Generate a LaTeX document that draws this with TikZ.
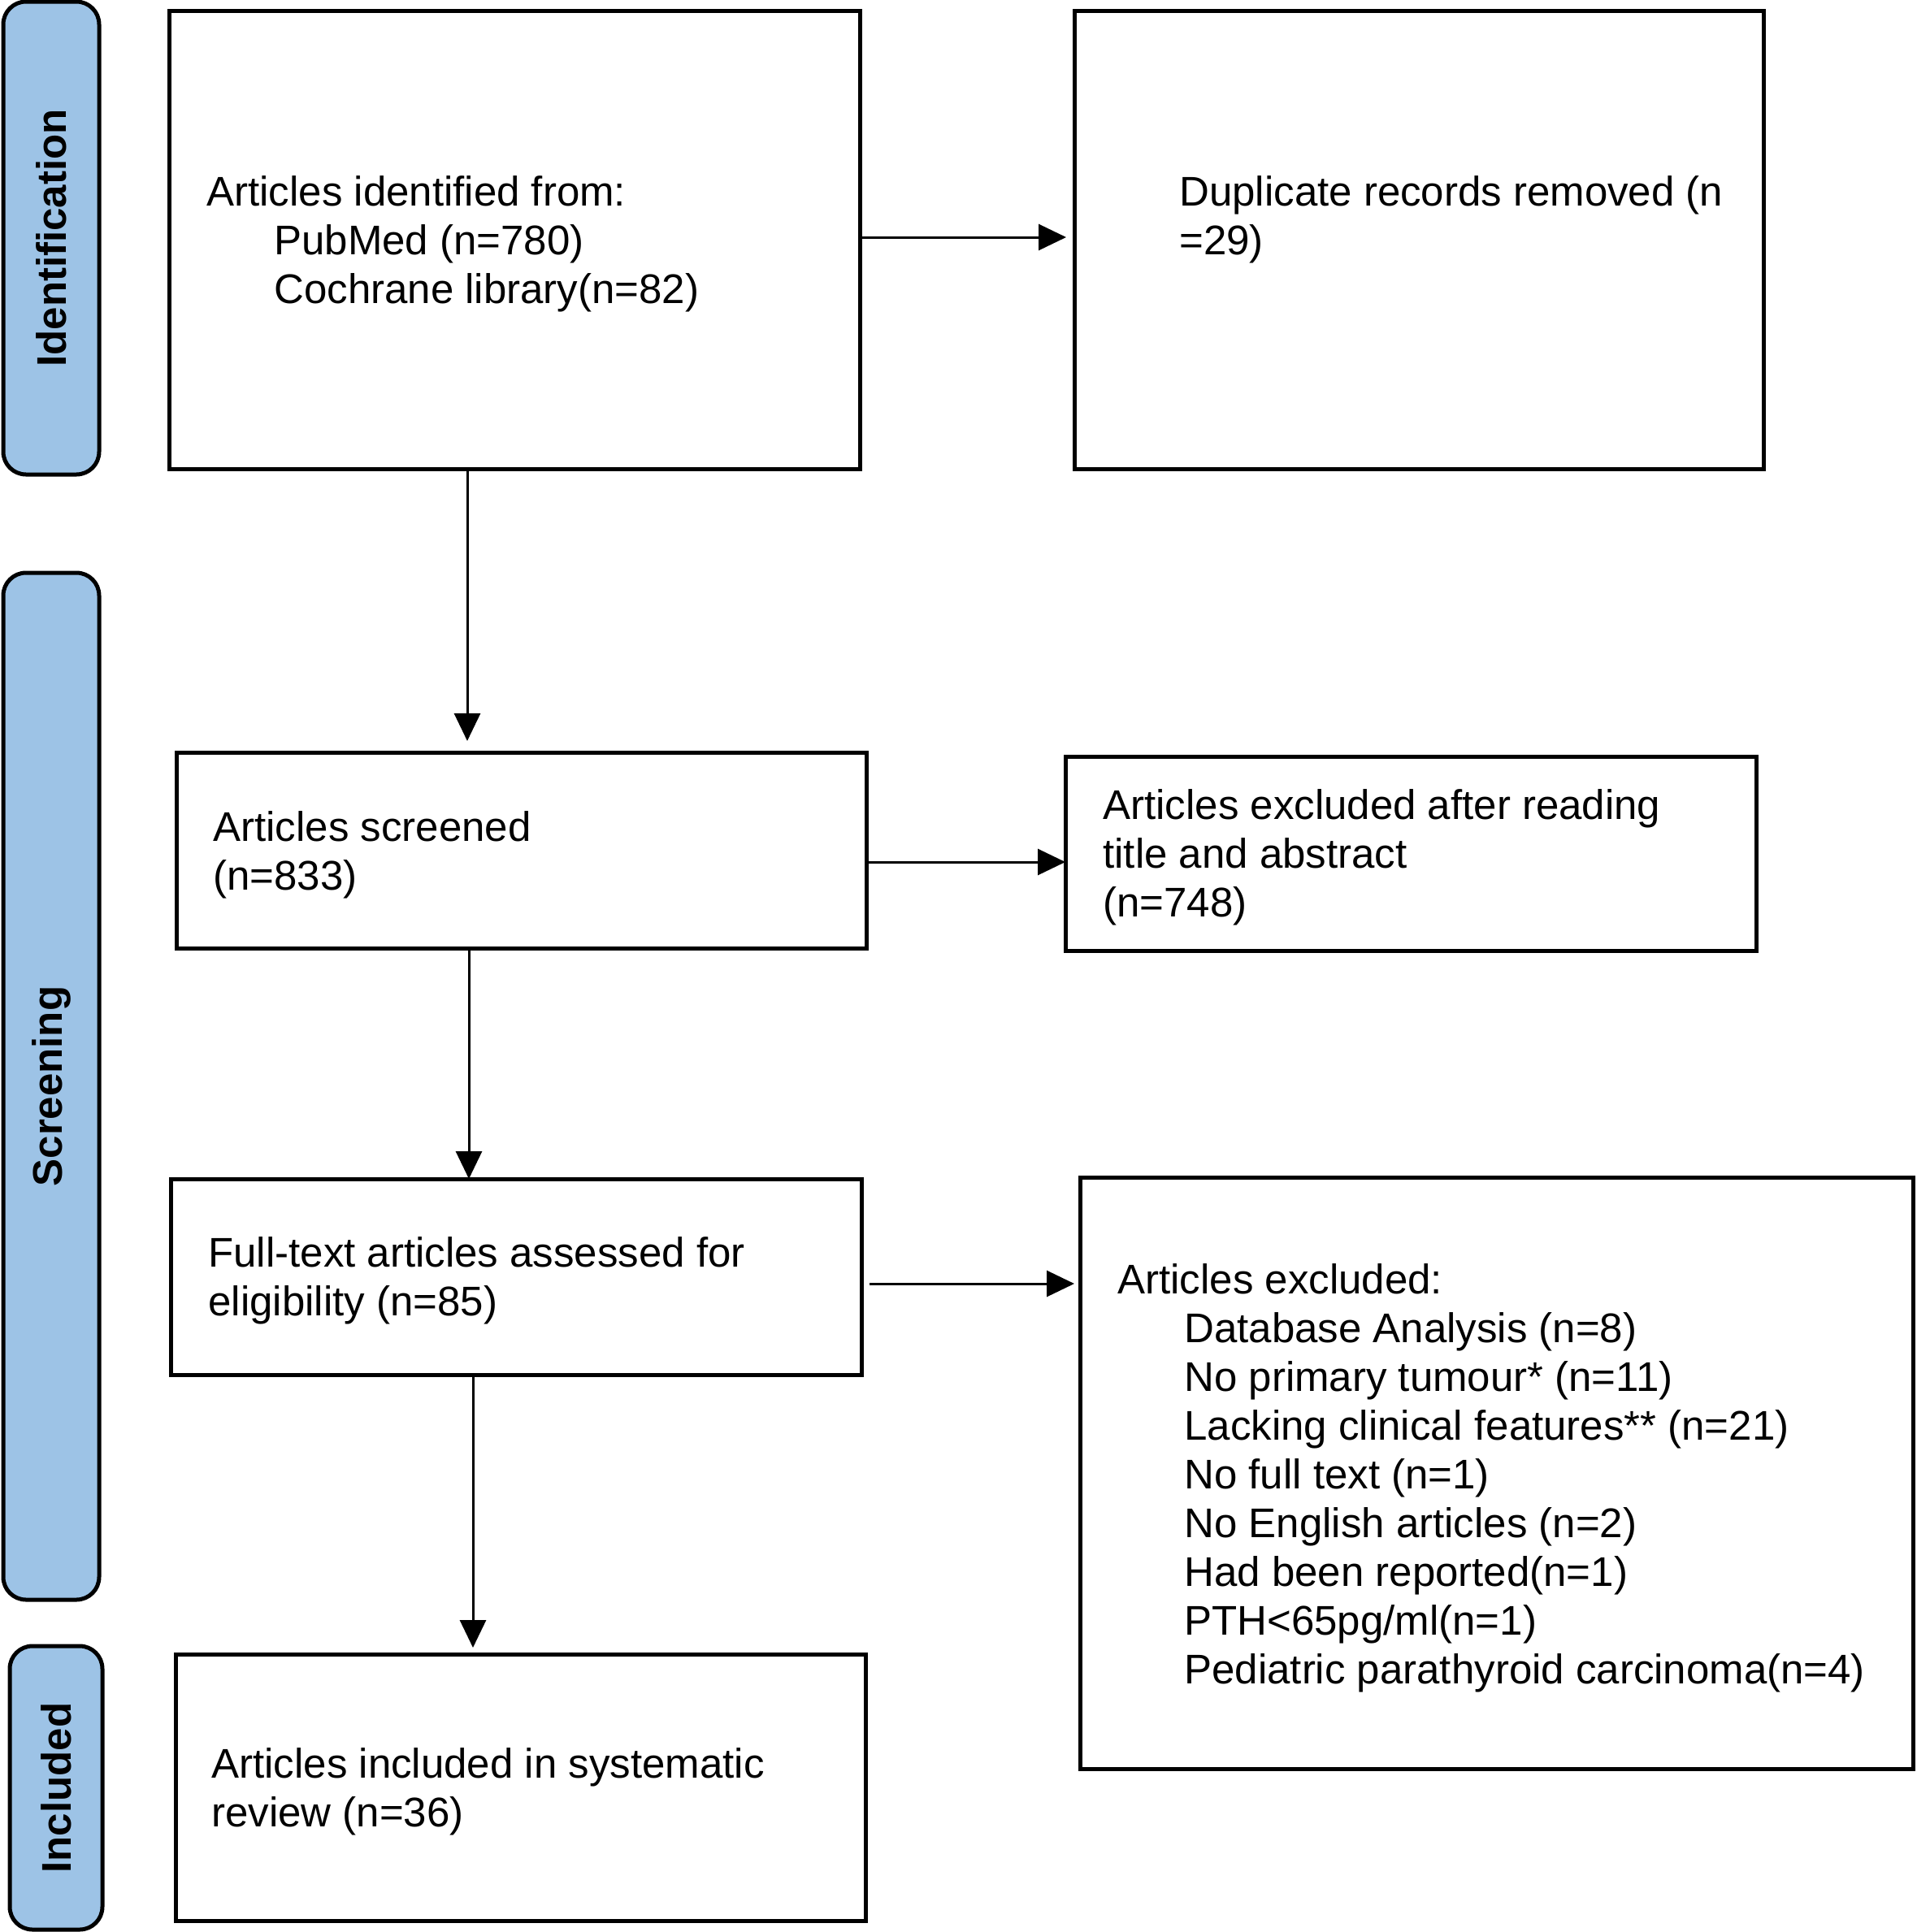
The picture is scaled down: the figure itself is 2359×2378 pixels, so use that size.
\documentclass[tikz,border=0pt]{standalone}
\usepackage{fontspec}
\setmainfont{Liberation Sans}
\usetikzlibrary{arrows.meta}
\definecolor{barblue}{RGB}{157,195,230}
\newcommand\txtlines[1]{\begin{tabular}[t]{@{}l@{}}#1\end{tabular}}
\begin{document}
\begin{tikzpicture}[x=0.5pt,y=-0.5pt,
  boxnode/.style={draw=black, line width=2.5pt, inner sep=0pt, outer sep=0pt},
  barnode/.style={draw=black, fill=barblue, line width=2.5pt, rounded corners=14pt, inner sep=0pt, outer sep=0pt},
  txt/.style={anchor=base west, inner sep=0pt, font=\fontsize{25.5pt}{30pt}\selectfont},
  bartxt/.style={rotate=90, inner sep=0pt, font=\fontsize{25.5pt}{30pt}\selectfont\bfseries},
  arr/.style={line width=1.5pt, -{Triangle[length=17pt,width=16pt]}}]
\useasboundingbox (0,0) rectangle (2359,2378);

% phase bars
\node[barnode, minimum width=59pt, minimum height=291pt] (bar1) at (63,293) {};
\node[barnode, minimum width=59pt, minimum height=632pt] (bar2) at (63,1337) {};
\node[barnode, minimum width=57pt, minimum height=174.5pt] (bar3) at (69,2200.5) {};
\node[bartxt] (lab1) at (bar1) {Identification};
\node[bartxt] (lab2) at (bar2) {Screening};
\node[bartxt] (lab3) at (bar3) {Included};

% boxes
\node[boxnode, minimum width=425pt, minimum height=282pt] (box1) at (633,295) {};
\node[boxnode, minimum width=424pt, minimum height=282pt] (box2) at (1746,295) {};
\node[boxnode, minimum width=424.5pt, minimum height=120.5pt] (box3) at (641.5,1046.5) {};
\node[boxnode, minimum width=425pt, minimum height=120.5pt] (box4) at (635,1571.5) {};
\node[boxnode, minimum width=425pt, minimum height=119.5pt] (box5) at (1736,1050.5) {};
\node[boxnode, minimum width=512.5pt, minimum height=364pt] (box6) at (1841.5,1813) {};
\node[boxnode, minimum width=424.5pt, minimum height=164pt] (box7) at (640.5,2200) {};

% texts
\node[txt] (t1) at (254,253) {\txtlines{Articles identified from:\\\hspace*{41.5pt}PubMed (n=780)\\\hspace*{41.5pt}Cochrane library(n=82)}};
\node[txt] (t2) at (1451,253) {\txtlines{Duplicate records removed (n\\=29)}};
\node[txt] (t3) at (262,1035) {\txtlines{Articles screened\\(n=833)}};
\node[txt] (t4) at (256,1559) {\txtlines{Full-text articles assessed for\\eligibility (n=85)}};
\node[txt] (t5) at (1357,1008) {\txtlines{Articles excluded after reading\\title and abstract\\(n=748)}};
\node[txt] (t6) at (1375,1592) {\txtlines{Articles excluded:\\
\hspace*{41pt}Database Analysis (n=8)\\
\hspace*{41pt}No primary tumour* (n=11)\\
\hspace*{41pt}Lacking clinical features** (n=21)\\
\hspace*{41pt}No full text (n=1)\\
\hspace*{41pt}No English articles (n=2)\\
\hspace*{41pt}Had been reported(n=1)\\
\hspace*{41pt}PTH<65pg/ml(n=1)\\
\hspace*{41pt}Pediatric parathyroid carcinoma(n=4)}};
\node[txt] (t7) at (260,2188) {\txtlines{Articles included in systematic\\review (n=36)}};

% connector guides
\coordinate (v1) at (575,0);
\coordinate (v2) at (577,0);
\coordinate (v3) at (582,0);
\coordinate (h1) at (0,292);
\coordinate (h2) at (0,1061);
\coordinate (h3) at (0,1580);

% connectors
\draw[arr, shorten >=5pt] (box1.east |- h1) -- (box2.west |- h1);
\draw[arr] (box3.east |- h2) -- (box5.west |- h2);
\draw[arr, shorten <=5pt, shorten >=3.5pt] (box4.east |- h3) -- (box6.west |- h3);
\draw[arr, shorten >=7pt] (box1.south -| v1) -- (box3.north -| v1);
\draw[arr] (box3.south -| v2) -- (box4.north -| v2);
\draw[arr, shorten >=4pt] (box4.south -| v3) -- (box7.north -| v3);
\end{tikzpicture}
\end{document}
